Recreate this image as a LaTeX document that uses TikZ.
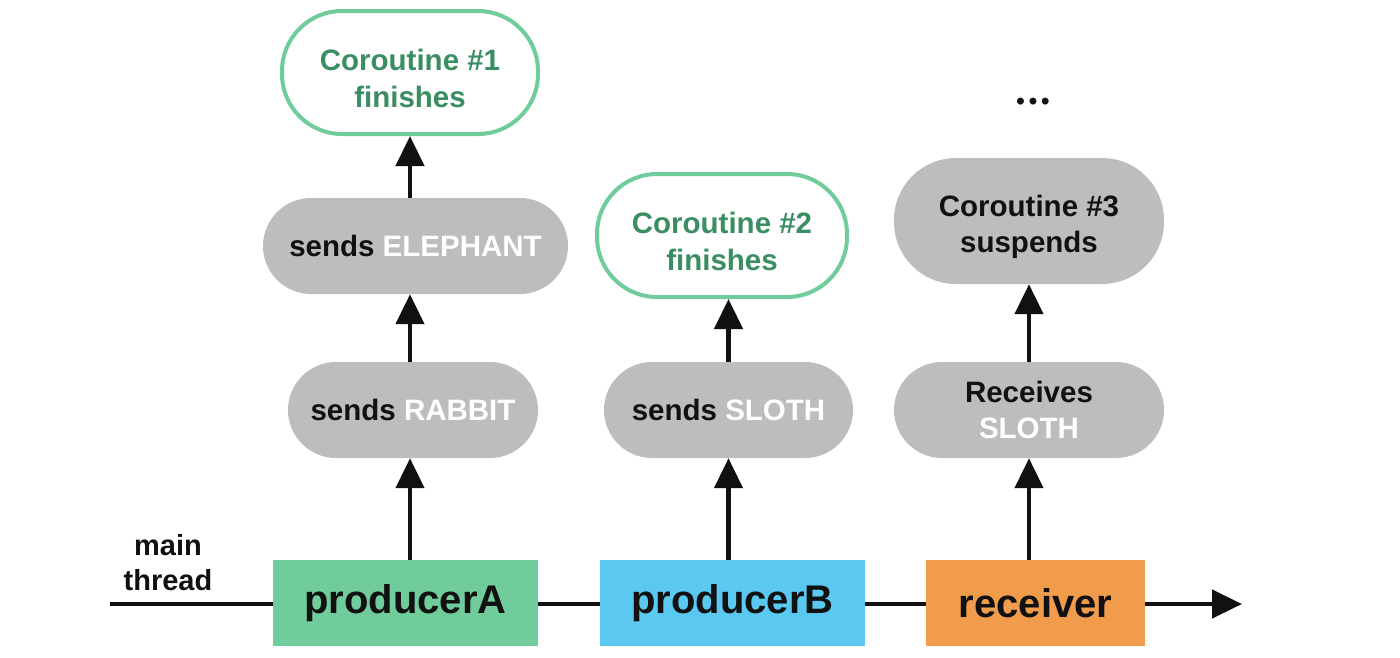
\documentclass[tikz,border=0pt]{standalone}
\usepackage{fontspec}
\setmainfont{Liberation Sans}
\usetikzlibrary{arrows.meta}
\definecolor{gfill}{RGB}{112,204,154}
\definecolor{bfill}{RGB}{90,200,240}
\definecolor{ofill}{RGB}{240,156,76}
\definecolor{gtext}{RGB}{58,142,98}
\definecolor{gbox}{RGB}{189,189,189}
\definecolor{ink}{RGB}{17,17,17}
\newcommand{\lowstrut}{\rule{0pt}{33pt}}
\tikzset{
  procbox/.style={rectangle, minimum height=86pt, inner sep=0pt, text=ink, font=\fontsize{40}{44}\selectfont\bfseries},
  graybox/.style={rectangle, fill=gbox, minimum height=96pt, rounded corners=48pt, inner sep=0pt, text=ink, align=center, font=\fontsize{29.5}{36}\selectfont\bfseries},
  donebox/.style={rectangle, draw=gfill, line width=4pt, fill=white, minimum height=123pt, rounded corners=60pt, inner sep=0pt, text=gtext, align=center, font=\fontsize{29.5}{37}\selectfont\bfseries},
  flow/.style={line width=4.5pt, draw=ink, -{Triangle[length=30pt,width=28pt]}},
  mainline/.style={line width=4.5pt, draw=ink}
}
\begin{document}
\begin{tikzpicture}[x=1pt,y=-1pt]
\useasboundingbox (0,0) rectangle (1400,657);
% main thread boxes
\node[procbox, fill=gfill, minimum width=265pt] (pa) at (405.5,603) {producerA};
\node[procbox, fill=bfill, minimum width=265pt] (pb) at (732.5,603) {producerB};
\node[procbox, fill=ofill, minimum width=219pt] (rc) at (1035.5,603) {receiver};
\node[align=center, text=ink, font=\fontsize{29}{35}\selectfont\bfseries] (mt) at (168,563) {main\\thread};
\coordinate (start) at (110,604);
\coordinate (stop) at (1242,604);
% column A
\node[graybox, minimum width=250pt] (ra) at (413,410) {sends \textcolor{white}{RABBIT}};
\node[graybox, minimum width=305pt] (el) at (415.5,246) {sends \textcolor{white}{ELEPHANT}};
\node[donebox, minimum width=256pt] (c1) at (410,72.5) {\lowstrut Coroutine \#1\\finishes};
% column B
\node[graybox, minimum width=249pt] (sl) at (728.5,410) {sends \textcolor{white}{SLOTH}};
\node[donebox, minimum width=250pt] (c2) at (722,235.5) {\lowstrut Coroutine \#2\\finishes};
% column C
\node[graybox, minimum width=270pt] (rs) at (1029,410) {Receives\\\textcolor{white}{SLOTH}};
\node[graybox, minimum width=270pt, minimum height=126pt, rounded corners=62pt] (c3) at (1029,221) {\lowstrut Coroutine \#3\\suspends};
\node[text=ink, font=\fontsize{24}{24}\selectfont\bfseries] (dots) at (1033,104) {\textbullet\hspace{4pt}\textbullet\hspace{4pt}\textbullet};
% main line
\draw[mainline] (start) -- (pa.west |- start);
\draw[mainline] (pa.east |- start) -- (pb.west |- start);
\draw[mainline] (pb.east |- start) -- (rc.west |- start);
\draw[flow] (rc.east |- stop) -- (stop);
% vertical arrows
\draw[flow] (pa.north -| c1) -- (ra.south -| c1);
\draw[flow] (ra.north -| c1) -- (el.south -| c1);
\draw[flow] (el.north -| c1) -- (c1.south);
\draw[flow] (pb.north -| sl) -- (sl.south);
\draw[flow] (sl.north) -- (c2.south -| sl);
\draw[flow] (rc.north -| rs) -- (rs.south);
\draw[flow] (rs.north) -- (c3.south);
\end{tikzpicture}
\end{document}
